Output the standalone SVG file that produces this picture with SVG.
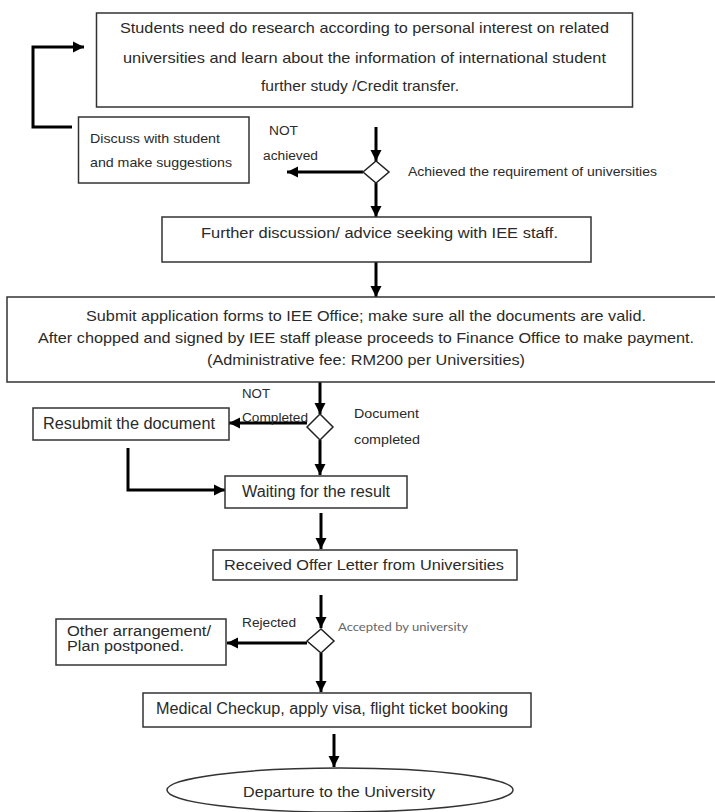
<svg xmlns="http://www.w3.org/2000/svg" width="715" height="812" viewBox="0 0 715 812">
<style>
.box{fill:#fff;stroke:#333;stroke-width:1.5}
.dia{fill:#fff;stroke:#222;stroke-width:1.5}
.t{font-family:"Liberation Sans",Arial,sans-serif;fill:#2a2a2a}
.c{fill:none;stroke:#000;stroke-width:3}
.acc{font-family:Lato,"Open Sans",sans-serif;fill:#666;font-size:11px}
</style>
<defs>
<marker id="ah" markerUnits="userSpaceOnUse" markerWidth="12" markerHeight="12" viewBox="0 0 12 12" refX="11" refY="6" orient="auto">
<path d="M0,0.5 L11,6 L0,11.5 z" fill="#000"/>
</marker>
</defs>
<rect width="715" height="812" fill="#fff"/>
<g id="connectors">
<polyline class="c" points="72,127 33,127 33,47 84,47" marker-end="url(#ah)"/>
<line class="c" x1="376" y1="127" x2="376" y2="161" marker-end="url(#ah)"/>
<line class="c" x1="363" y1="172" x2="287" y2="172" marker-end="url(#ah)"/>
<line class="c" x1="376" y1="183" x2="376" y2="217" marker-end="url(#ah)"/>
<line class="c" x1="376" y1="262" x2="376" y2="297" marker-end="url(#ah)"/>
<line class="c" x1="320" y1="382" x2="320" y2="414" marker-end="url(#ah)"/>
<line class="c" x1="307" y1="423" x2="229" y2="423" marker-end="url(#ah)"/>
<line class="c" x1="320" y1="440" x2="320" y2="475" marker-end="url(#ah)"/>
<polyline class="c" points="128,448 128,490 225,490" marker-end="url(#ah)"/>
<line class="c" x1="321" y1="513" x2="321" y2="549" marker-end="url(#ah)"/>
<line class="c" x1="321" y1="595" x2="321" y2="628" marker-end="url(#ah)"/>
<line class="c" x1="307" y1="643" x2="227" y2="643" marker-end="url(#ah)"/>
<line class="c" x1="321" y1="653" x2="321" y2="692" marker-end="url(#ah)"/>
<line class="c" x1="334" y1="734" x2="334" y2="767" marker-end="url(#ah)"/>
</g>
<g id="research">
<rect class="box" x="96.5" y="13" width="536" height="94"/>
<text class="t" font-size="15" x="364.5" y="33" text-anchor="middle" textLength="489" lengthAdjust="spacingAndGlyphs">Students need do research according to personal interest on related</text>
<text class="t" font-size="15" x="364.5" y="63" text-anchor="middle" textLength="483" lengthAdjust="spacingAndGlyphs">universities and learn about the information of international student</text>
<text class="t" font-size="15" x="360" y="91" text-anchor="middle" textLength="198" lengthAdjust="spacingAndGlyphs">further study /Credit transfer.</text>
</g>
<g id="discuss">
<rect class="box" x="78.5" y="117" width="170.5" height="66"/>
<text class="t" font-size="13" x="90" y="142.5" textLength="130" lengthAdjust="spacingAndGlyphs">Discuss with student</text>
<text class="t" font-size="13" x="90" y="166.5" textLength="142" lengthAdjust="spacingAndGlyphs">and make suggestions</text>
</g>
<g id="decision1">
<polygon class="dia" points="363,172 376,161 389,172 376,183"/>
<text class="t" font-size="12" x="269" y="135" textLength="29" lengthAdjust="spacingAndGlyphs">NOT</text>
<text class="t" font-size="12" x="263" y="160" textLength="55" lengthAdjust="spacingAndGlyphs">achieved</text>
<text class="t" font-size="13" x="408" y="175.5" textLength="249" lengthAdjust="spacingAndGlyphs">Achieved the requirement of universities</text>
</g>
<g id="further">
<rect class="box" x="162" y="217" width="429" height="45"/>
<text class="t" font-size="14" x="201" y="238" textLength="357" lengthAdjust="spacingAndGlyphs">Further discussion/ advice seeking with IEE staff.</text>
</g>
<g id="submit">
<rect class="box" x="7" y="297" width="712" height="85"/>
<text class="t" font-size="15" x="86" y="321" textLength="560" lengthAdjust="spacingAndGlyphs">Submit application forms to IEE Office; make sure all the documents are valid.</text>
<text class="t" font-size="15" x="38" y="343" textLength="656" lengthAdjust="spacingAndGlyphs">After chopped and signed by IEE staff please proceeds to Finance Office to make payment.</text>
<text class="t" font-size="15" x="207" y="365" textLength="318" lengthAdjust="spacingAndGlyphs">(Administrative fee: RM200 per Universities)</text>
</g>
<g id="decision2">
<polygon class="dia" points="307,427 320,414 333,427 320,440"/>
<text class="t" font-size="12.5" x="242" y="397.5" textLength="28" lengthAdjust="spacingAndGlyphs">NOT</text>
<text class="t" font-size="12.5" x="242" y="421.5" textLength="66" lengthAdjust="spacingAndGlyphs">Completed</text>
<text class="t" font-size="13" x="354" y="417.5" textLength="65" lengthAdjust="spacingAndGlyphs">Document</text>
<text class="t" font-size="13" x="354" y="443.5" textLength="66" lengthAdjust="spacingAndGlyphs">completed</text>
</g>
<g id="resubmit">
<rect class="box" x="33" y="408" width="196" height="32"/>
<text class="t" font-size="16" x="43" y="428.5" textLength="172" lengthAdjust="spacingAndGlyphs">Resubmit the document</text>
</g>
<g id="waiting">
<rect class="box" x="225" y="476" width="182" height="32"/>
<text class="t" font-size="16" x="242" y="496.5" textLength="148" lengthAdjust="spacingAndGlyphs">Waiting for the result</text>
</g>
<g id="received">
<rect class="box" x="213" y="550" width="304" height="30"/>
<text class="t" font-size="15" x="224" y="570" textLength="280" lengthAdjust="spacingAndGlyphs">Received Offer Letter from Universities</text>
</g>
<g id="decision3">
<polygon class="dia" points="307,641 321,629 334,641 321,653"/>
<text class="t" font-size="12.5" x="242" y="627" textLength="54" lengthAdjust="spacingAndGlyphs">Rejected</text>
<text class="acc" x="338" y="631" textLength="130" lengthAdjust="spacingAndGlyphs">Accepted by university</text>
</g>
<g id="other">
<rect class="box" x="56" y="619" width="170" height="46"/>
<text class="t" font-size="14" x="67" y="636" textLength="144" lengthAdjust="spacingAndGlyphs">Other arrangement/</text>
<text class="t" font-size="14" x="67" y="651" textLength="117" lengthAdjust="spacingAndGlyphs">Plan postponed.</text>
</g>
<g id="medical">
<rect class="box" x="143" y="693" width="388" height="34"/>
<text class="t" font-size="16" x="156" y="714" textLength="352" lengthAdjust="spacingAndGlyphs">Medical Checkup, apply visa, flight ticket booking</text>
</g>
<g id="departure">
<ellipse class="box" cx="340" cy="790" rx="173" ry="22"/>
<text class="t" font-size="15" x="243" y="797" textLength="192" lengthAdjust="spacingAndGlyphs">Departure to the University</text>
</g>
</svg>
